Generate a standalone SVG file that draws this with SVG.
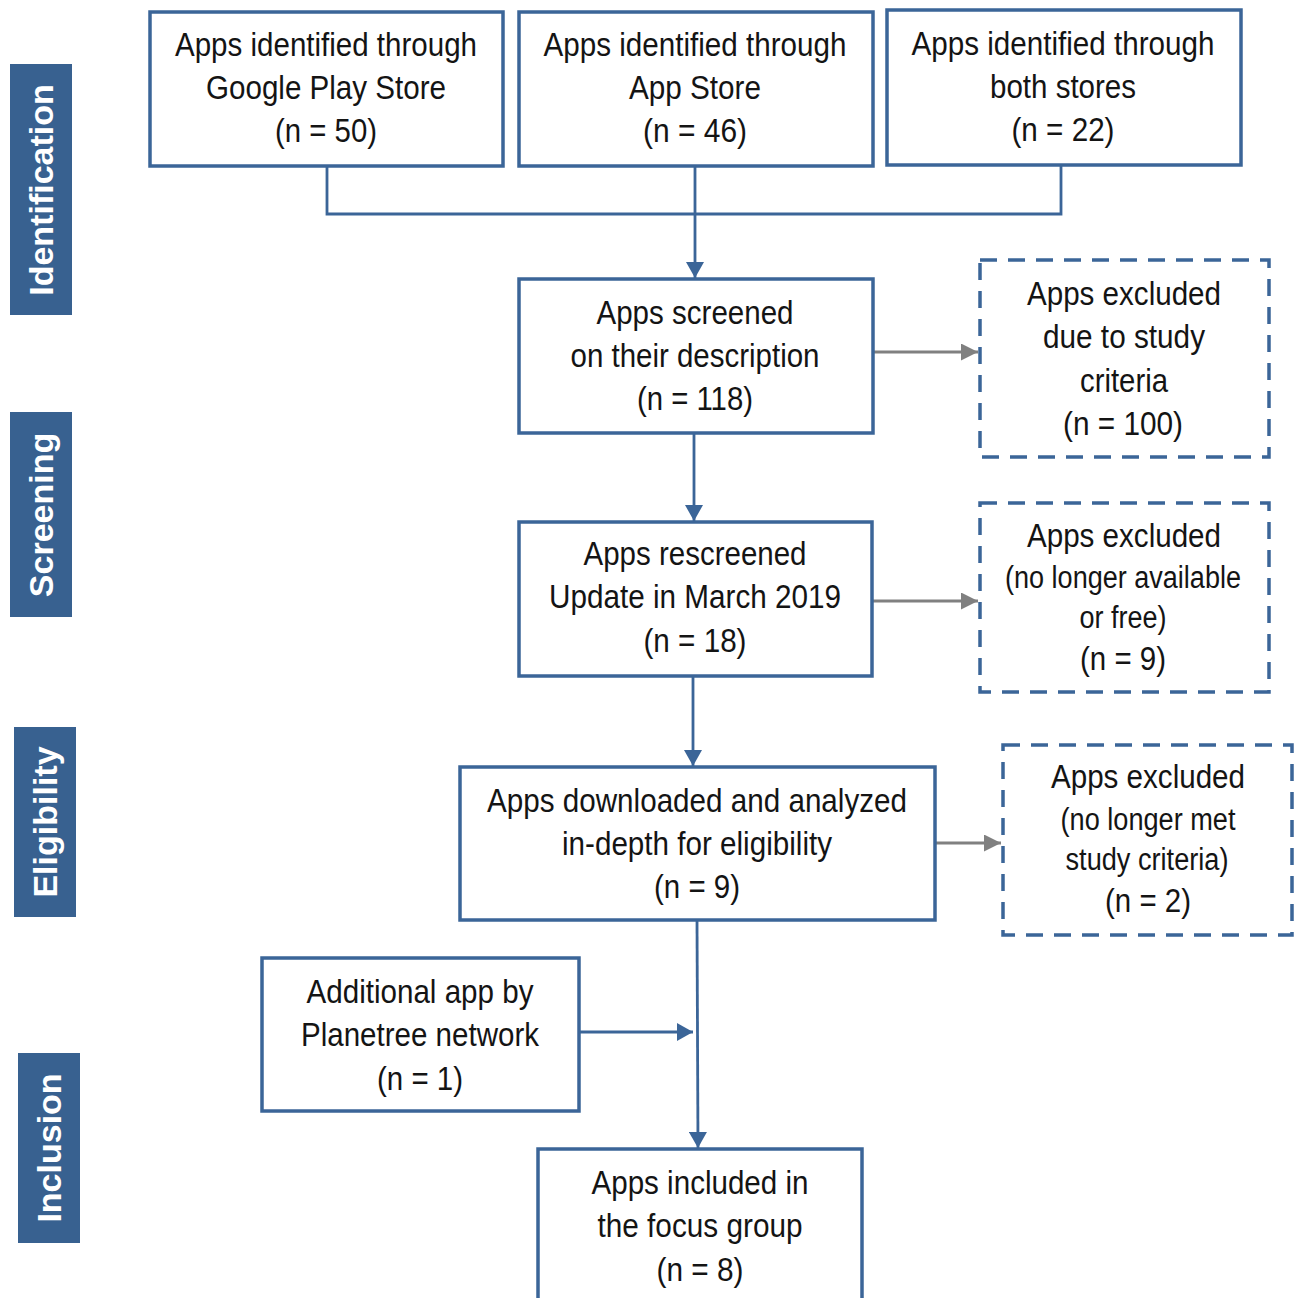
<svg xmlns="http://www.w3.org/2000/svg" width="1294" height="1298" viewBox="0 0 1294 1298">
<defs>
<style>
.box{fill:#fff;stroke:#3b6598;stroke-width:3.5}
.dash{fill:#fff;stroke:#3b6598;stroke-width:3.5;stroke-dasharray:17 11}
.t{font-family:"Liberation Sans",Arial,sans-serif;font-size:34px;fill:#141414;text-anchor:middle}
.s{font-size:31px}
.lab{fill:#386190}
.lt{font-family:"Liberation Sans",Arial,sans-serif;font-weight:bold;font-size:34px;fill:#fff;text-anchor:middle}
.cb{fill:none;stroke:#3b6598;stroke-width:2.8}
.cg{fill:none;stroke:#808080;stroke-width:2.8}
</style>
<marker id="ab" viewBox="0 0 10 10" refX="10" refY="5" markerWidth="16" markerHeight="18" markerUnits="userSpaceOnUse" orient="auto" preserveAspectRatio="none"><path d="M0,0 L10,5 L0,10 z" fill="#3b6598"/></marker>
<marker id="ag" viewBox="0 0 10 10" refX="10" refY="5" markerWidth="17" markerHeight="17" markerUnits="userSpaceOnUse" orient="auto" preserveAspectRatio="none"><path d="M0,0 L10,5 L0,10 z" fill="#808080"/></marker>
</defs>
<rect width="1294" height="1298" fill="#fff"/>

<g id="labels">
<g id="lab-identification"><rect class="lab" x="10" y="64" width="62" height="251"/><text class="lt" transform="translate(53,190) rotate(-90)">Identification</text></g>
<g id="lab-screening"><rect class="lab" x="10" y="412" width="62" height="205"/><text class="lt" transform="translate(53,515) rotate(-90)">Screening</text></g>
<g id="lab-eligibility"><rect class="lab" x="14" y="727" width="62" height="190"/><text class="lt" transform="translate(57,822) rotate(-90)">Eligibility</text></g>
<g id="lab-inclusion"><rect class="lab" x="18" y="1053" width="62" height="190"/><text class="lt" transform="translate(61,1148) rotate(-90)">Inclusion</text></g>
</g>

<g id="connectors">
<path class="cb" d="M327,166 V214 H1061 V165"/>
<path class="cb" d="M695,166 V278" marker-end="url(#ab)"/>
<path class="cg" d="M873,352 H978" marker-end="url(#ag)"/>
<path class="cb" d="M694,433 V521" marker-end="url(#ab)"/>
<path class="cg" d="M872,601 H978" marker-end="url(#ag)"/>
<path class="cb" d="M693,676 V766" marker-end="url(#ab)"/>
<path class="cg" d="M935,843 H1001" marker-end="url(#ag)"/>
<path class="cb" d="M697,920 L698,1148" marker-end="url(#ab)"/>
<path class="cb" d="M579,1032 H693" marker-end="url(#ab)"/>
</g>

<g id="n-google">
<rect class="box" x="150" y="12" width="353" height="154"/>
<text class="t" x="326" y="56" textLength="302" lengthAdjust="spacingAndGlyphs">Apps identified through</text>
<text class="t" x="326" y="99" textLength="240" lengthAdjust="spacingAndGlyphs">Google Play Store</text>
<text class="t" x="326" y="142" textLength="102" lengthAdjust="spacingAndGlyphs">(n = 50)</text>
</g>
<g id="n-appstore">
<rect class="box" x="519" y="12" width="354" height="154"/>
<text class="t" x="695" y="56" textLength="303" lengthAdjust="spacingAndGlyphs">Apps identified through</text>
<text class="t" x="695" y="99" textLength="132" lengthAdjust="spacingAndGlyphs">App Store</text>
<text class="t" x="695" y="142" textLength="104" lengthAdjust="spacingAndGlyphs">(n = 46)</text>
</g>
<g id="n-both">
<rect class="box" x="887" y="10" width="354" height="155"/>
<text class="t" x="1063" y="55" textLength="303" lengthAdjust="spacingAndGlyphs">Apps identified through</text>
<text class="t" x="1063" y="98" textLength="146" lengthAdjust="spacingAndGlyphs">both stores</text>
<text class="t" x="1063" y="141" textLength="103" lengthAdjust="spacingAndGlyphs">(n = 22)</text>
</g>
<g id="n-screened">
<rect class="box" x="519" y="279" width="354" height="154"/>
<text class="t" x="695" y="324" textLength="197" lengthAdjust="spacingAndGlyphs">Apps screened</text>
<text class="t" x="695" y="367" textLength="249" lengthAdjust="spacingAndGlyphs">on their description</text>
<text class="t" x="695" y="410" textLength="116" lengthAdjust="spacingAndGlyphs">(n = 118)</text>
</g>
<g id="n-excl1">
<rect class="dash" x="980" y="260" width="289" height="197"/>
<text class="t" x="1124" y="305" textLength="194" lengthAdjust="spacingAndGlyphs">Apps excluded</text>
<text class="t" x="1124" y="348" textLength="162" lengthAdjust="spacingAndGlyphs">due to study</text>
<text class="t" x="1124" y="392" textLength="88" lengthAdjust="spacingAndGlyphs">criteria</text>
<text class="t" x="1123" y="435" textLength="120" lengthAdjust="spacingAndGlyphs">(n = 100)</text>
</g>
<g id="n-rescreened">
<rect class="box" x="519" y="522" width="353" height="154"/>
<text class="t" x="695" y="565" textLength="223" lengthAdjust="spacingAndGlyphs">Apps rescreened</text>
<text class="t" x="695" y="608" textLength="292" lengthAdjust="spacingAndGlyphs">Update in March 2019</text>
<text class="t" x="695" y="652" textLength="103" lengthAdjust="spacingAndGlyphs">(n = 18)</text>
</g>
<g id="n-excl2">
<rect class="dash" x="980" y="503" width="289" height="189"/>
<text class="t" x="1124" y="547" textLength="194" lengthAdjust="spacingAndGlyphs">Apps excluded</text>
<text class="t s" x="1123" y="588" textLength="236" lengthAdjust="spacingAndGlyphs">(no longer available</text>
<text class="t s" x="1123" y="628" textLength="87" lengthAdjust="spacingAndGlyphs">or free)</text>
<text class="t" x="1123" y="670" textLength="86" lengthAdjust="spacingAndGlyphs">(n = 9)</text>
</g>
<g id="n-downloaded">
<rect class="box" x="460" y="767" width="475" height="153"/>
<text class="t" x="697" y="812" textLength="420" lengthAdjust="spacingAndGlyphs">Apps downloaded and analyzed</text>
<text class="t" x="697" y="855" textLength="270" lengthAdjust="spacingAndGlyphs">in-depth for eligibility</text>
<text class="t" x="697" y="898" textLength="86" lengthAdjust="spacingAndGlyphs">(n = 9)</text>
</g>
<g id="n-excl3">
<rect class="dash" x="1003" y="745" width="289" height="190"/>
<text class="t" x="1148" y="788" textLength="194" lengthAdjust="spacingAndGlyphs">Apps excluded</text>
<text class="t s" x="1148" y="830" textLength="175" lengthAdjust="spacingAndGlyphs">(no longer met</text>
<text class="t s" x="1147" y="870" textLength="163" lengthAdjust="spacingAndGlyphs">study criteria)</text>
<text class="t" x="1148" y="912" textLength="86" lengthAdjust="spacingAndGlyphs">(n = 2)</text>
</g>
<g id="n-additional">
<rect class="box" x="262" y="958" width="317" height="153"/>
<text class="t" x="420" y="1003" textLength="227" lengthAdjust="spacingAndGlyphs">Additional app by</text>
<text class="t" x="420" y="1046" textLength="238" lengthAdjust="spacingAndGlyphs">Planetree network</text>
<text class="t" x="420" y="1090" textLength="86" lengthAdjust="spacingAndGlyphs">(n = 1)</text>
</g>
<g id="n-included">
<rect class="box" x="538" y="1149" width="324" height="160"/>
<text class="t" x="700" y="1194" textLength="217" lengthAdjust="spacingAndGlyphs">Apps included in</text>
<text class="t" x="700" y="1237" textLength="205" lengthAdjust="spacingAndGlyphs">the focus group</text>
<text class="t" x="700" y="1281" textLength="87" lengthAdjust="spacingAndGlyphs">(n = 8)</text>
</g>
</svg>
